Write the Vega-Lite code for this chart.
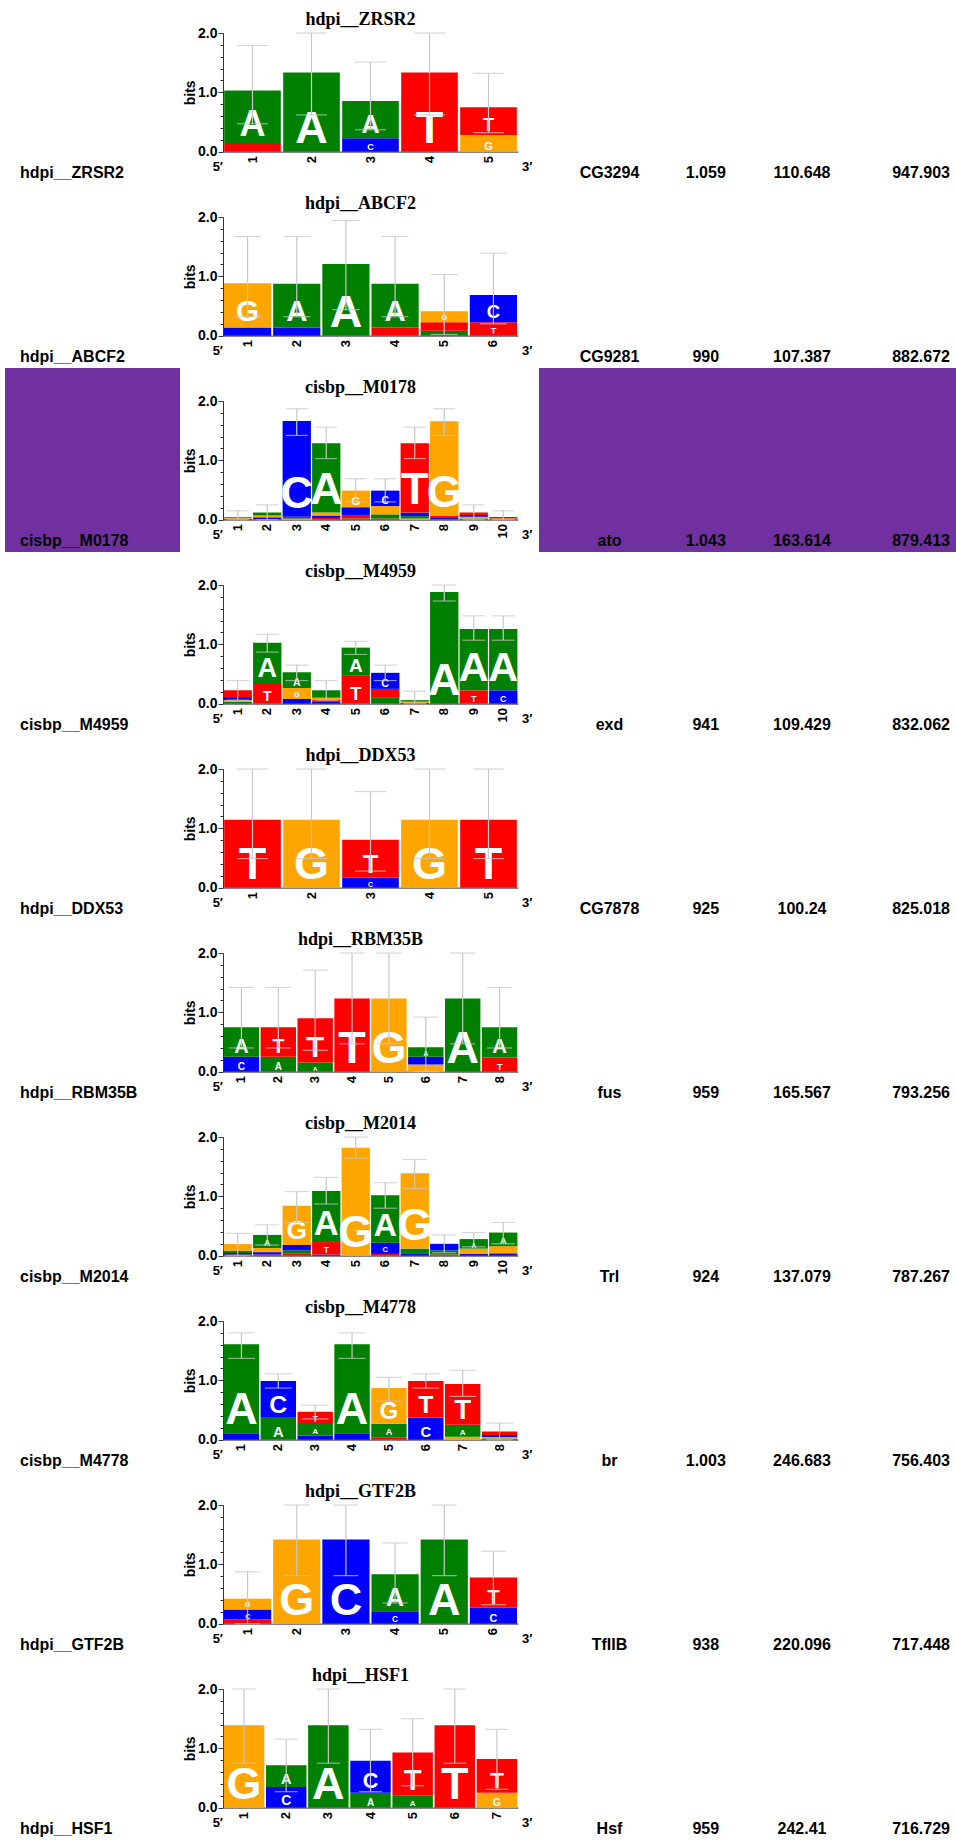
{
"$schema": "https://vega.github.io/schema/vega-lite/v6.json",
"background": "white",
"padding": {"left": 5, "top": 0, "right": 0, "bottom": 0},
"autosize": {"type": "pad"},
"datasets": {
"letters": [
{"motif":"hdpi__ZRSR2","pos":1,"base":"T","bits":0.13},{"motif":"hdpi__ZRSR2","pos":1,"base":"A","bits":0.9},{"motif":"hdpi__ZRSR2","pos":2,"base":"A","bits":1.335},{"motif":"hdpi__ZRSR2","pos":3,"base":"C","bits":0.225},{"motif":"hdpi__ZRSR2","pos":3,"base":"A","bits":0.63},{"motif":"hdpi__ZRSR2","pos":4,"base":"T","bits":1.335},{"motif":"hdpi__ZRSR2","pos":5,"base":"G","bits":0.28},{"motif":"hdpi__ZRSR2","pos":5,"base":"T","bits":0.47},
{"motif":"hdpi__ABCF2","pos":1,"base":"C","bits":0.14},{"motif":"hdpi__ABCF2","pos":1,"base":"G","bits":0.745},{"motif":"hdpi__ABCF2","pos":2,"base":"C","bits":0.14},{"motif":"hdpi__ABCF2","pos":2,"base":"A","bits":0.735},{"motif":"hdpi__ABCF2","pos":3,"base":"A","bits":1.21},{"motif":"hdpi__ABCF2","pos":4,"base":"T","bits":0.14},{"motif":"hdpi__ABCF2","pos":4,"base":"A","bits":0.735},{"motif":"hdpi__ABCF2","pos":5,"base":"A","bits":0.085},{"motif":"hdpi__ABCF2","pos":5,"base":"T","bits":0.14},{"motif":"hdpi__ABCF2","pos":5,"base":"G","bits":0.185},{"motif":"hdpi__ABCF2","pos":6,"base":"T","bits":0.225},{"motif":"hdpi__ABCF2","pos":6,"base":"C","bits":0.46},
{"motif":"cisbp__M0178","pos":1,"base":"A","bits":0.015},{"motif":"cisbp__M0178","pos":1,"base":"C","bits":0.01},{"motif":"cisbp__M0178","pos":1,"base":"G","bits":0.011},{"motif":"cisbp__M0178","pos":1,"base":"T","bits":0.005},
{"motif":"cisbp__M0178","pos":2,"base":"T","bits":0.01},{"motif":"cisbp__M0178","pos":2,"base":"C","bits":0.03},{"motif":"cisbp__M0178","pos":2,"base":"G","bits":0.031},{"motif":"cisbp__M0178","pos":2,"base":"A","bits":0.05},
{"motif":"cisbp__M0178","pos":3,"base":"G","bits":0.01},{"motif":"cisbp__M0178","pos":3,"base":"T","bits":0.011},{"motif":"cisbp__M0178","pos":3,"base":"A","bits":0.03},{"motif":"cisbp__M0178","pos":3,"base":"C","bits":1.61},
{"motif":"cisbp__M0178","pos":4,"base":"T","bits":0.03},{"motif":"cisbp__M0178","pos":4,"base":"C","bits":0.04},{"motif":"cisbp__M0178","pos":4,"base":"G","bits":0.05},{"motif":"cisbp__M0178","pos":4,"base":"A","bits":1.17},
{"motif":"cisbp__M0178","pos":5,"base":"A","bits":0.02},{"motif":"cisbp__M0178","pos":5,"base":"T","bits":0.06},{"motif":"cisbp__M0178","pos":5,"base":"C","bits":0.13},{"motif":"cisbp__M0178","pos":5,"base":"G","bits":0.28},
{"motif":"cisbp__M0178","pos":6,"base":"T","bits":0.02},{"motif":"cisbp__M0178","pos":6,"base":"A","bits":0.07},{"motif":"cisbp__M0178","pos":6,"base":"G","bits":0.14},{"motif":"cisbp__M0178","pos":6,"base":"C","bits":0.26},
{"motif":"cisbp__M0178","pos":7,"base":"G","bits":0.02},{"motif":"cisbp__M0178","pos":7,"base":"A","bits":0.04},{"motif":"cisbp__M0178","pos":7,"base":"C","bits":0.06},{"motif":"cisbp__M0178","pos":7,"base":"T","bits":1.17},
{"motif":"cisbp__M0178","pos":8,"base":"A","bits":0.01},{"motif":"cisbp__M0178","pos":8,"base":"C","bits":0.02},{"motif":"cisbp__M0178","pos":8,"base":"T","bits":0.04},{"motif":"cisbp__M0178","pos":8,"base":"G","bits":1.59},
{"motif":"cisbp__M0178","pos":9,"base":"A","bits":0.02},{"motif":"cisbp__M0178","pos":9,"base":"G","bits":0.03},{"motif":"cisbp__M0178","pos":9,"base":"C","bits":0.031},{"motif":"cisbp__M0178","pos":9,"base":"T","bits":0.04},
{"motif":"cisbp__M0178","pos":10,"base":"A","bits":0.01},{"motif":"cisbp__M0178","pos":10,"base":"G","bits":0.011},{"motif":"cisbp__M0178","pos":10,"base":"T","bits":0.012},{"motif":"cisbp__M0178","pos":10,"base":"C","bits":0.013},
{"motif":"cisbp__M4959","pos":1,"base":"A","bits":0.03},{"motif":"cisbp__M4959","pos":1,"base":"G","bits":0.031},{"motif":"cisbp__M4959","pos":1,"base":"C","bits":0.05},{"motif":"cisbp__M4959","pos":1,"base":"T","bits":0.115},
{"motif":"cisbp__M4959","pos":2,"base":"T","bits":0.35},{"motif":"cisbp__M4959","pos":2,"base":"A","bits":0.675},
{"motif":"cisbp__M4959","pos":3,"base":"C","bits":0.08},{"motif":"cisbp__M4959","pos":3,"base":"G","bits":0.185},{"motif":"cisbp__M4959","pos":3,"base":"A","bits":0.265},
{"motif":"cisbp__M4959","pos":4,"base":"C","bits":0.03},{"motif":"cisbp__M4959","pos":4,"base":"T","bits":0.031},{"motif":"cisbp__M4959","pos":4,"base":"G","bits":0.04},{"motif":"cisbp__M4959","pos":4,"base":"A","bits":0.125},
{"motif":"cisbp__M4959","pos":5,"base":"T","bits":0.47},{"motif":"cisbp__M4959","pos":5,"base":"A","bits":0.475},
{"motif":"cisbp__M4959","pos":6,"base":"A","bits":0.11},{"motif":"cisbp__M4959","pos":6,"base":"T","bits":0.14},{"motif":"cisbp__M4959","pos":6,"base":"C","bits":0.27},
{"motif":"cisbp__M4959","pos":7,"base":"C","bits":0.015},{"motif":"cisbp__M4959","pos":7,"base":"G","bits":0.02},{"motif":"cisbp__M4959","pos":7,"base":"A","bits":0.025},
{"motif":"cisbp__M4959","pos":8,"base":"A","bits":1.88},
{"motif":"cisbp__M4959","pos":9,"base":"T","bits":0.225},{"motif":"cisbp__M4959","pos":9,"base":"A","bits":1.035},
{"motif":"cisbp__M4959","pos":10,"base":"C","bits":0.225},{"motif":"cisbp__M4959","pos":10,"base":"A","bits":1.035},
{"motif":"hdpi__DDX53","pos":1,"base":"T","bits":1.145},{"motif":"hdpi__DDX53","pos":2,"base":"G","bits":1.145},{"motif":"hdpi__DDX53","pos":3,"base":"C","bits":0.17},{"motif":"hdpi__DDX53","pos":3,"base":"T","bits":0.64},{"motif":"hdpi__DDX53","pos":4,"base":"G","bits":1.145},{"motif":"hdpi__DDX53","pos":5,"base":"T","bits":1.145},
{"motif":"hdpi__RBM35B","pos":1,"base":"C","bits":0.25},{"motif":"hdpi__RBM35B","pos":1,"base":"A","bits":0.5},{"motif":"hdpi__RBM35B","pos":2,"base":"A","bits":0.25},{"motif":"hdpi__RBM35B","pos":2,"base":"T","bits":0.5},{"motif":"hdpi__RBM35B","pos":3,"base":"A","bits":0.155},{"motif":"hdpi__RBM35B","pos":3,"base":"T","bits":0.745},{"motif":"hdpi__RBM35B","pos":4,"base":"T","bits":1.235},{"motif":"hdpi__RBM35B","pos":5,"base":"G","bits":1.235},{"motif":"hdpi__RBM35B","pos":6,"base":"G","bits":0.12},{"motif":"hdpi__RBM35B","pos":6,"base":"C","bits":0.13},{"motif":"hdpi__RBM35B","pos":6,"base":"A","bits":0.16},{"motif":"hdpi__RBM35B","pos":7,"base":"A","bits":1.235},{"motif":"hdpi__RBM35B","pos":8,"base":"T","bits":0.24},{"motif":"hdpi__RBM35B","pos":8,"base":"A","bits":0.51},
{"motif":"cisbp__M2014","pos":1,"base":"T","bits":0.02},{"motif":"cisbp__M2014","pos":1,"base":"C","bits":0.025},{"motif":"cisbp__M2014","pos":1,"base":"A","bits":0.04},{"motif":"cisbp__M2014","pos":1,"base":"G","bits":0.11},
{"motif":"cisbp__M2014","pos":2,"base":"T","bits":0.02},{"motif":"cisbp__M2014","pos":2,"base":"C","bits":0.04},{"motif":"cisbp__M2014","pos":2,"base":"G","bits":0.07},{"motif":"cisbp__M2014","pos":2,"base":"A","bits":0.22},
{"motif":"cisbp__M2014","pos":3,"base":"T","bits":0.04},{"motif":"cisbp__M2014","pos":3,"base":"A","bits":0.05},{"motif":"cisbp__M2014","pos":3,"base":"C","bits":0.09},{"motif":"cisbp__M2014","pos":3,"base":"G","bits":0.66},
{"motif":"cisbp__M2014","pos":4,"base":"C","bits":0.02},{"motif":"cisbp__M2014","pos":4,"base":"T","bits":0.21},{"motif":"cisbp__M2014","pos":4,"base":"A","bits":0.86},
{"motif":"cisbp__M2014","pos":5,"base":"G","bits":1.82},
{"motif":"cisbp__M2014","pos":6,"base":"T","bits":0.03},{"motif":"cisbp__M2014","pos":6,"base":"C","bits":0.19},{"motif":"cisbp__M2014","pos":6,"base":"A","bits":0.8},
{"motif":"cisbp__M2014","pos":7,"base":"C","bits":0.03},{"motif":"cisbp__M2014","pos":7,"base":"A","bits":0.09},{"motif":"cisbp__M2014","pos":7,"base":"G","bits":1.27},
{"motif":"cisbp__M2014","pos":8,"base":"T","bits":0.02},{"motif":"cisbp__M2014","pos":8,"base":"A","bits":0.07},{"motif":"cisbp__M2014","pos":8,"base":"C","bits":0.11},
{"motif":"cisbp__M2014","pos":9,"base":"C","bits":0.03},{"motif":"cisbp__M2014","pos":9,"base":"G","bits":0.09},{"motif":"cisbp__M2014","pos":9,"base":"A","bits":0.16},
{"motif":"cisbp__M2014","pos":10,"base":"C","bits":0.04},{"motif":"cisbp__M2014","pos":10,"base":"G","bits":0.12},{"motif":"cisbp__M2014","pos":10,"base":"A","bits":0.23},
{"motif":"cisbp__M4778","pos":1,"base":"C","bits":0.11},{"motif":"cisbp__M4778","pos":1,"base":"A","bits":1.5},
{"motif":"cisbp__M4778","pos":2,"base":"A","bits":0.37},{"motif":"cisbp__M4778","pos":2,"base":"C","bits":0.62},
{"motif":"cisbp__M4778","pos":3,"base":"C","bits":0.07},{"motif":"cisbp__M4778","pos":3,"base":"A","bits":0.195},{"motif":"cisbp__M4778","pos":3,"base":"T","bits":0.205},
{"motif":"cisbp__M4778","pos":4,"base":"C","bits":0.11},{"motif":"cisbp__M4778","pos":4,"base":"A","bits":1.5},
{"motif":"cisbp__M4778","pos":5,"base":"T","bits":0.04},{"motif":"cisbp__M4778","pos":5,"base":"A","bits":0.23},{"motif":"cisbp__M4778","pos":5,"base":"G","bits":0.6},
{"motif":"cisbp__M4778","pos":6,"base":"C","bits":0.37},{"motif":"cisbp__M4778","pos":6,"base":"T","bits":0.62},
{"motif":"cisbp__M4778","pos":7,"base":"G","bits":0.05},{"motif":"cisbp__M4778","pos":7,"base":"A","bits":0.2},{"motif":"cisbp__M4778","pos":7,"base":"T","bits":0.69},
{"motif":"cisbp__M4778","pos":8,"base":"A","bits":0.02},{"motif":"cisbp__M4778","pos":8,"base":"G","bits":0.025},{"motif":"cisbp__M4778","pos":8,"base":"C","bits":0.035},{"motif":"cisbp__M4778","pos":8,"base":"T","bits":0.06},
{"motif":"hdpi__GTF2B","pos":1,"base":"T","bits":0.07},{"motif":"hdpi__GTF2B","pos":1,"base":"C","bits":0.17},{"motif":"hdpi__GTF2B","pos":1,"base":"G","bits":0.18},{"motif":"hdpi__GTF2B","pos":2,"base":"G","bits":1.42},{"motif":"hdpi__GTF2B","pos":3,"base":"C","bits":1.42},{"motif":"hdpi__GTF2B","pos":4,"base":"C","bits":0.21},{"motif":"hdpi__GTF2B","pos":4,"base":"A","bits":0.625},{"motif":"hdpi__GTF2B","pos":5,"base":"A","bits":1.42},{"motif":"hdpi__GTF2B","pos":6,"base":"C","bits":0.27},{"motif":"hdpi__GTF2B","pos":6,"base":"T","bits":0.51},
{"motif":"hdpi__HSF1","pos":1,"base":"G","bits":1.39},{"motif":"hdpi__HSF1","pos":2,"base":"C","bits":0.35},{"motif":"hdpi__HSF1","pos":2,"base":"A","bits":0.365},{"motif":"hdpi__HSF1","pos":3,"base":"A","bits":1.39},{"motif":"hdpi__HSF1","pos":4,"base":"A","bits":0.25},{"motif":"hdpi__HSF1","pos":4,"base":"C","bits":0.54},{"motif":"hdpi__HSF1","pos":5,"base":"A","bits":0.2},{"motif":"hdpi__HSF1","pos":5,"base":"T","bits":0.73},{"motif":"hdpi__HSF1","pos":6,"base":"T","bits":1.39},{"motif":"hdpi__HSF1","pos":7,"base":"G","bits":0.25},{"motif":"hdpi__HSF1","pos":7,"base":"T","bits":0.57}
],
"errs": [
{"motif":"hdpi__ZRSR2","pos":1,"lo":0.47,"hi":1.79},{"motif":"hdpi__ZRSR2","pos":2,"lo":0.62,"hi":2.0},{"motif":"hdpi__ZRSR2","pos":3,"lo":0.37,"hi":1.51},{"motif":"hdpi__ZRSR2","pos":4,"lo":0.62,"hi":2.0},{"motif":"hdpi__ZRSR2","pos":5,"lo":0.32,"hi":1.32},
{"motif":"hdpi__ABCF2","pos":1,"lo":0.32,"hi":1.67},{"motif":"hdpi__ABCF2","pos":2,"lo":0.32,"hi":1.67},{"motif":"hdpi__ABCF2","pos":3,"lo":0.44,"hi":1.94},{"motif":"hdpi__ABCF2","pos":4,"lo":0.32,"hi":1.67},{"motif":"hdpi__ABCF2","pos":5,"lo":0.02,"hi":1.03},{"motif":"hdpi__ABCF2","pos":6,"lo":0.2,"hi":1.39},
{"motif":"cisbp__M0178","pos":1,"lo":0,"hi":0.15},{"motif":"cisbp__M0178","pos":2,"lo":0,"hi":0.25},{"motif":"cisbp__M0178","pos":3,"lo":1.42,"hi":1.87},{"motif":"cisbp__M0178","pos":4,"lo":1.03,"hi":1.56},{"motif":"cisbp__M0178","pos":5,"lo":0.3,"hi":0.69},{"motif":"cisbp__M0178","pos":6,"lo":0.3,"hi":0.69},{"motif":"cisbp__M0178","pos":7,"lo":1.03,"hi":1.56},{"motif":"cisbp__M0178","pos":8,"lo":1.42,"hi":1.87},{"motif":"cisbp__M0178","pos":9,"lo":0,"hi":0.25},{"motif":"cisbp__M0178","pos":10,"lo":0,"hi":0.15},
{"motif":"cisbp__M4959","pos":1,"lo":0.06,"hi":0.39},{"motif":"cisbp__M4959","pos":2,"lo":0.87,"hi":1.17},{"motif":"cisbp__M4959","pos":3,"lo":0.39,"hi":0.65},{"motif":"cisbp__M4959","pos":4,"lo":0.06,"hi":0.39},{"motif":"cisbp__M4959","pos":5,"lo":0.83,"hi":1.05},{"motif":"cisbp__M4959","pos":6,"lo":0.39,"hi":0.65},{"motif":"cisbp__M4959","pos":7,"lo":0,"hi":0.21},{"motif":"cisbp__M4959","pos":8,"lo":1.73,"hi":2.0},{"motif":"cisbp__M4959","pos":9,"lo":1.07,"hi":1.48},{"motif":"cisbp__M4959","pos":10,"lo":1.07,"hi":1.48},
{"motif":"hdpi__DDX53","pos":1,"lo":0.49,"hi":2.0},{"motif":"hdpi__DDX53","pos":2,"lo":0.49,"hi":2.0},{"motif":"hdpi__DDX53","pos":3,"lo":0.28,"hi":1.62},{"motif":"hdpi__DDX53","pos":4,"lo":0.49,"hi":2.0},{"motif":"hdpi__DDX53","pos":5,"lo":0.49,"hi":2.0},
{"motif":"hdpi__RBM35B","pos":1,"lo":0.4,"hi":1.42},{"motif":"hdpi__RBM35B","pos":2,"lo":0.4,"hi":1.42},{"motif":"hdpi__RBM35B","pos":3,"lo":0.36,"hi":1.71},{"motif":"hdpi__RBM35B","pos":4,"lo":0.47,"hi":2.0},{"motif":"hdpi__RBM35B","pos":5,"lo":0.47,"hi":2.0},{"motif":"hdpi__RBM35B","pos":6,"lo":0,"hi":0.92},{"motif":"hdpi__RBM35B","pos":7,"lo":0.47,"hi":2.0},{"motif":"hdpi__RBM35B","pos":8,"lo":0.4,"hi":1.42},
{"motif":"cisbp__M2014","pos":1,"lo":0,"hi":0.375},{"motif":"cisbp__M2014","pos":2,"lo":0.18,"hi":0.52},{"motif":"cisbp__M2014","pos":3,"lo":0.56,"hi":1.08},{"motif":"cisbp__M2014","pos":4,"lo":0.87,"hi":1.32},{"motif":"cisbp__M2014","pos":5,"lo":1.64,"hi":2.0},{"motif":"cisbp__M2014","pos":6,"lo":0.8,"hi":1.23},{"motif":"cisbp__M2014","pos":7,"lo":1.13,"hi":1.62},{"motif":"cisbp__M2014","pos":8,"lo":0.05,"hi":0.35},{"motif":"cisbp__M2014","pos":9,"lo":0.15,"hi":0.39},{"motif":"cisbp__M2014","pos":10,"lo":0.2,"hi":0.56},
{"motif":"cisbp__M4778","pos":1,"lo":1.37,"hi":1.8},{"motif":"cisbp__M4778","pos":2,"lo":0.87,"hi":1.11},{"motif":"cisbp__M4778","pos":3,"lo":0.35,"hi":0.58},{"motif":"cisbp__M4778","pos":4,"lo":1.37,"hi":1.8},{"motif":"cisbp__M4778","pos":5,"lo":0.65,"hi":1.05},{"motif":"cisbp__M4778","pos":6,"lo":0.87,"hi":1.11},{"motif":"cisbp__M4778","pos":7,"lo":0.73,"hi":1.17},{"motif":"cisbp__M4778","pos":8,"lo":0,"hi":0.28},
{"motif":"hdpi__GTF2B","pos":1,"lo":0,"hi":0.875},{"motif":"hdpi__GTF2B","pos":2,"lo":0.81,"hi":2.0},{"motif":"hdpi__GTF2B","pos":3,"lo":0.81,"hi":2.0},{"motif":"hdpi__GTF2B","pos":4,"lo":0.35,"hi":1.36},{"motif":"hdpi__GTF2B","pos":5,"lo":0.81,"hi":2.0},{"motif":"hdpi__GTF2B","pos":6,"lo":0.32,"hi":1.22},
{"motif":"hdpi__HSF1","pos":1,"lo":0.75,"hi":2.0},{"motif":"hdpi__HSF1","pos":2,"lo":0.27,"hi":1.155},{"motif":"hdpi__HSF1","pos":3,"lo":0.75,"hi":2.0},{"motif":"hdpi__HSF1","pos":4,"lo":0.27,"hi":1.32},{"motif":"hdpi__HSF1","pos":5,"lo":0.37,"hi":1.5},{"motif":"hdpi__HSF1","pos":6,"lo":0.75,"hi":2.0},{"motif":"hdpi__HSF1","pos":7,"lo":0.31,"hi":1.32}
],
"cells": [
{"motif":"hdpi__ZRSR2","col":"name","text":"hdpi__ZRSR2"},{"motif":"hdpi__ZRSR2","col":"gene","text":"CG3294"},{"motif":"hdpi__ZRSR2","col":"n1","text":"1.059"},{"motif":"hdpi__ZRSR2","col":"n2","text":"110.648"},{"motif":"hdpi__ZRSR2","col":"n3","text":"947.903"},
{"motif":"hdpi__ABCF2","col":"name","text":"hdpi__ABCF2"},{"motif":"hdpi__ABCF2","col":"gene","text":"CG9281"},{"motif":"hdpi__ABCF2","col":"n1","text":"990"},{"motif":"hdpi__ABCF2","col":"n2","text":"107.387"},{"motif":"hdpi__ABCF2","col":"n3","text":"882.672"},
{"motif":"cisbp__M0178","col":"name","text":"cisbp__M0178"},{"motif":"cisbp__M0178","col":"gene","text":"ato"},{"motif":"cisbp__M0178","col":"n1","text":"1.043"},{"motif":"cisbp__M0178","col":"n2","text":"163.614"},{"motif":"cisbp__M0178","col":"n3","text":"879.413"},
{"motif":"cisbp__M4959","col":"name","text":"cisbp__M4959"},{"motif":"cisbp__M4959","col":"gene","text":"exd"},{"motif":"cisbp__M4959","col":"n1","text":"941"},{"motif":"cisbp__M4959","col":"n2","text":"109.429"},{"motif":"cisbp__M4959","col":"n3","text":"832.062"},
{"motif":"hdpi__DDX53","col":"name","text":"hdpi__DDX53"},{"motif":"hdpi__DDX53","col":"gene","text":"CG7878"},{"motif":"hdpi__DDX53","col":"n1","text":"925"},{"motif":"hdpi__DDX53","col":"n2","text":"100.24"},{"motif":"hdpi__DDX53","col":"n3","text":"825.018"},
{"motif":"hdpi__RBM35B","col":"name","text":"hdpi__RBM35B"},{"motif":"hdpi__RBM35B","col":"gene","text":"fus"},{"motif":"hdpi__RBM35B","col":"n1","text":"959"},{"motif":"hdpi__RBM35B","col":"n2","text":"165.567"},{"motif":"hdpi__RBM35B","col":"n3","text":"793.256"},
{"motif":"cisbp__M2014","col":"name","text":"cisbp__M2014"},{"motif":"cisbp__M2014","col":"gene","text":"Trl"},{"motif":"cisbp__M2014","col":"n1","text":"924"},{"motif":"cisbp__M2014","col":"n2","text":"137.079"},{"motif":"cisbp__M2014","col":"n3","text":"787.267"},
{"motif":"cisbp__M4778","col":"name","text":"cisbp__M4778"},{"motif":"cisbp__M4778","col":"gene","text":"br"},{"motif":"cisbp__M4778","col":"n1","text":"1.003"},{"motif":"cisbp__M4778","col":"n2","text":"246.683"},{"motif":"cisbp__M4778","col":"n3","text":"756.403"},
{"motif":"hdpi__GTF2B","col":"name","text":"hdpi__GTF2B"},{"motif":"hdpi__GTF2B","col":"gene","text":"TfIIB"},{"motif":"hdpi__GTF2B","col":"n1","text":"938"},{"motif":"hdpi__GTF2B","col":"n2","text":"220.096"},{"motif":"hdpi__GTF2B","col":"n3","text":"717.448"},
{"motif":"hdpi__HSF1","col":"name","text":"hdpi__HSF1"},{"motif":"hdpi__HSF1","col":"gene","text":"Hsf"},{"motif":"hdpi__HSF1","col":"n1","text":"959"},{"motif":"hdpi__HSF1","col":"n2","text":"242.41"},{"motif":"hdpi__HSF1","col":"n3","text":"716.729"}
],
"ends": [{"end": "5′"}, {"end": "3′"}]
},
"vconcat": [
{"hconcat": [
 {"width": 175, "height": 184, "data": {"name": "cells"}, "transform": [{"filter": "datum.motif === 'hdpi__ZRSR2' && datum.col === 'name'"}], "mark": {"type": "text", "align": "left", "baseline": "middle"}, "encoding": {"x": {"field": "col", "type": "nominal", "scale": {"range": [15, 15]}, "axis": null}, "y": {"field": "col", "type": "nominal", "scale": {"range": [173, 173]}, "axis": null}, "text": {"field": "text"}}},
 {"width": 359, "height": 184, "title": {"text": "hdpi__ZRSR2", "offset": -28.5, "dx": 1},
  "layer": [
   {"layer": [
     {"data": {"name": "letters"}, "transform": [{"filter": "datum.motif === 'hdpi__ZRSR2'"}], "mark": {"type": "bar", "width": {"band": 0.96}},
      "encoding": {"x": {"field": "pos", "type": "ordinal", "scale": {"domain": [1,2,3,4,5], "range": [43, 338], "paddingInner": 0, "paddingOuter": 0}, "axis": {"title": null}},
       "y": {"field": "bits", "type": "quantitative", "stack": "zero", "scale": {"domain": [0, 2], "range": [151.7, 33]}, "axis": {"orient": "left", "title": "bits", "offset": -43, "labelOverlap": false, "values": [0, 1, 2], "format": ".1f", "tickSize": 5}},
       "order": {"field": "bits", "type": "quantitative", "sort": "ascending"},
       "color": {"field": "base", "type": "nominal", "scale": {"domain": ["A","C","G","T"], "range": ["#008000","#0000ff","#ffa500","#ff0000"]}, "legend": null}}},
     {"data": {"name": "letters"}, "transform": [{"filter": "datum.motif === 'hdpi__ZRSR2'"}, {"stack": "bits", "groupby": ["pos"], "sort": [{"field": "bits", "order": "ascending"}], "as": ["y0", "y1"]}, {"filter": "datum.bits >= 0.15"}],
      "mark": {"type": "text", "color": "white", "align": "center", "baseline": "bottom"},
      "encoding": {"x": {"field": "pos", "type": "ordinal"}, "y": {"field": "y0", "type": "quantitative", "stack": null, "axis": null}, "text": {"field": "base"}, "size": {"field": "bits", "type": "quantitative", "scale": {"domain": [0, 1.125], "range": [0, 45], "clamp": true}, "legend": null}}},
     {"data": {"name": "errs"}, "transform": [{"filter": "datum.motif === 'hdpi__ZRSR2'"}], "mark": {"type": "errorbar", "ticks": true, "size": 31, "color": "#c8c8c8", "thickness": 1.2},
      "encoding": {"x": {"field": "pos", "type": "ordinal"}, "y": {"field": "lo", "type": "quantitative", "axis": {"orient": "left", "title": null, "offset": -43, "values": [0.2,0.4,0.6,0.8,1.2,1.4,1.6,1.8], "labels": false, "domain": false, "tickSize": 3}}, "y2": {"field": "hi"}}}
   ], "resolve": {"axis": {"y": "independent"}}},
   {"data": {"name": "ends"}, "transform": [{"filter": "datum.end === '5′'"}], "mark": {"type": "text", "align": "right", "baseline": "middle", "fontSize": 13},
    "encoding": {"x": {"field": "end", "type": "nominal", "scale": {"type": "point", "domain": ["5′","3′"], "range": [43, 338], "padding": 0}, "axis": null}, "y": {"datum": -0.25, "type": "quantitative", "scale": {"domain": [0, 2], "range": [151.7, 33]}, "axis": null}, "text": {"field": "end"}}},
   {"data": {"name": "ends"}, "transform": [{"filter": "datum.end === '3′'"}], "mark": {"type": "text", "align": "left", "baseline": "middle", "fontSize": 13, "dx": 4},
    "encoding": {"x": {"field": "end", "type": "nominal", "scale": {"type": "point", "domain": ["5′","3′"], "range": [43, 338], "padding": 0}, "axis": null}, "y": {"datum": -0.25, "type": "quantitative", "scale": {"domain": [0, 2], "range": [151.7, 33]}, "axis": null}, "text": {"field": "end"}}}
  ],
  "resolve": {"scale": {"x": "independent"}, "axis": {"y": "independent"}}},
 {"width": 417, "height": 184, "data": {"name": "cells"}, "transform": [{"filter": "datum.motif === 'hdpi__ZRSR2'"}],
  "layer": [
   {"transform": [{"filter": "datum.col === 'gene' || datum.col === 'n1' || datum.col === 'n2'"}], "mark": {"type": "text", "align": "center", "baseline": "middle"},
    "encoding": {"x": {"field": "col", "type": "nominal", "scale": {"type": "point", "domain": ["gene","n1","n2"], "range": [70.5, 263], "padding": 0}, "axis": null}, "y": {"field": "motif", "type": "nominal", "scale": {"range": [173, 173]}, "axis": null}, "text": {"field": "text"}}},
   {"transform": [{"filter": "datum.col === 'n3'"}], "mark": {"type": "text", "align": "right", "baseline": "middle"},
    "encoding": {"x": {"field": "col", "type": "nominal", "scale": {"range": [411, 411]}, "axis": null}, "y": {"field": "motif", "type": "nominal", "scale": {"range": [173, 173]}, "axis": null}, "text": {"field": "text"}}}
  ], "resolve": {"scale": {"x": "independent"}}}
], "spacing": 0, "bounds": "flush"},
{"hconcat": [
 {"width": 175, "height": 184, "data": {"name": "cells"}, "transform": [{"filter": "datum.motif === 'hdpi__ABCF2' && datum.col === 'name'"}], "mark": {"type": "text", "align": "left", "baseline": "middle"}, "encoding": {"x": {"field": "col", "type": "nominal", "scale": {"range": [15, 15]}, "axis": null}, "y": {"field": "col", "type": "nominal", "scale": {"range": [173, 173]}, "axis": null}, "text": {"field": "text"}}},
 {"width": 359, "height": 184, "title": {"text": "hdpi__ABCF2", "offset": -28.5, "dx": 1},
  "layer": [
   {"layer": [
     {"data": {"name": "letters"}, "transform": [{"filter": "datum.motif === 'hdpi__ABCF2'"}], "mark": {"type": "bar", "width": {"band": 0.96}},
      "encoding": {"x": {"field": "pos", "type": "ordinal", "scale": {"domain": [1,2,3,4,5,6], "range": [43, 338], "paddingInner": 0, "paddingOuter": 0}, "axis": {"title": null}},
       "y": {"field": "bits", "type": "quantitative", "stack": "zero", "scale": {"domain": [0, 2], "range": [151.7, 33]}, "axis": {"orient": "left", "title": "bits", "offset": -43, "labelOverlap": false, "values": [0, 1, 2], "format": ".1f", "tickSize": 5}},
       "order": {"field": "bits", "type": "quantitative", "sort": "ascending"},
       "color": {"field": "base", "type": "nominal", "scale": {"domain": ["A","C","G","T"], "range": ["#008000","#0000ff","#ffa500","#ff0000"]}, "legend": null}}},
     {"data": {"name": "letters"}, "transform": [{"filter": "datum.motif === 'hdpi__ABCF2'"}, {"stack": "bits", "groupby": ["pos"], "sort": [{"field": "bits", "order": "ascending"}], "as": ["y0", "y1"]}, {"filter": "datum.bits >= 0.15"}],
      "mark": {"type": "text", "color": "white", "align": "center", "baseline": "bottom"},
      "encoding": {"x": {"field": "pos", "type": "ordinal"}, "y": {"field": "y0", "type": "quantitative", "stack": null, "axis": null}, "text": {"field": "base"}, "size": {"field": "bits", "type": "quantitative", "scale": {"domain": [0, 0.95], "range": [0, 38], "clamp": true}, "legend": null}}},
     {"data": {"name": "errs"}, "transform": [{"filter": "datum.motif === 'hdpi__ABCF2'"}], "mark": {"type": "errorbar", "ticks": true, "size": 27, "color": "#c8c8c8", "thickness": 1.2},
      "encoding": {"x": {"field": "pos", "type": "ordinal"}, "y": {"field": "lo", "type": "quantitative", "axis": {"orient": "left", "title": null, "offset": -43, "values": [0.2,0.4,0.6,0.8,1.2,1.4,1.6,1.8], "labels": false, "domain": false, "tickSize": 3}}, "y2": {"field": "hi"}}}
   ], "resolve": {"axis": {"y": "independent"}}},
   {"data": {"name": "ends"}, "transform": [{"filter": "datum.end === '5′'"}], "mark": {"type": "text", "align": "right", "baseline": "middle", "fontSize": 13},
    "encoding": {"x": {"field": "end", "type": "nominal", "scale": {"type": "point", "domain": ["5′","3′"], "range": [43, 338], "padding": 0}, "axis": null}, "y": {"datum": -0.25, "type": "quantitative", "scale": {"domain": [0, 2], "range": [151.7, 33]}, "axis": null}, "text": {"field": "end"}}},
   {"data": {"name": "ends"}, "transform": [{"filter": "datum.end === '3′'"}], "mark": {"type": "text", "align": "left", "baseline": "middle", "fontSize": 13, "dx": 4},
    "encoding": {"x": {"field": "end", "type": "nominal", "scale": {"type": "point", "domain": ["5′","3′"], "range": [43, 338], "padding": 0}, "axis": null}, "y": {"datum": -0.25, "type": "quantitative", "scale": {"domain": [0, 2], "range": [151.7, 33]}, "axis": null}, "text": {"field": "end"}}}
  ],
  "resolve": {"scale": {"x": "independent"}, "axis": {"y": "independent"}}},
 {"width": 417, "height": 184, "data": {"name": "cells"}, "transform": [{"filter": "datum.motif === 'hdpi__ABCF2'"}],
  "layer": [
   {"transform": [{"filter": "datum.col === 'gene' || datum.col === 'n1' || datum.col === 'n2'"}], "mark": {"type": "text", "align": "center", "baseline": "middle"},
    "encoding": {"x": {"field": "col", "type": "nominal", "scale": {"type": "point", "domain": ["gene","n1","n2"], "range": [70.5, 263], "padding": 0}, "axis": null}, "y": {"field": "motif", "type": "nominal", "scale": {"range": [173, 173]}, "axis": null}, "text": {"field": "text"}}},
   {"transform": [{"filter": "datum.col === 'n3'"}], "mark": {"type": "text", "align": "right", "baseline": "middle"},
    "encoding": {"x": {"field": "col", "type": "nominal", "scale": {"range": [411, 411]}, "axis": null}, "y": {"field": "motif", "type": "nominal", "scale": {"range": [173, 173]}, "axis": null}, "text": {"field": "text"}}}
  ], "resolve": {"scale": {"x": "independent"}}}
], "spacing": 0, "bounds": "flush"},
{"hconcat": [
 {"width": 175, "height": 184, "view": {"fill": "#7030a0"}, "data": {"name": "cells"}, "transform": [{"filter": "datum.motif === 'cisbp__M0178' && datum.col === 'name'"}], "mark": {"type": "text", "align": "left", "baseline": "middle"}, "encoding": {"x": {"field": "col", "type": "nominal", "scale": {"range": [15, 15]}, "axis": null}, "y": {"field": "col", "type": "nominal", "scale": {"range": [173, 173]}, "axis": null}, "text": {"field": "text"}}},
 {"width": 359, "height": 184, "title": {"text": "cisbp__M0178", "offset": -28.5, "dx": 1},
  "layer": [
   {"layer": [
     {"data": {"name": "letters"}, "transform": [{"filter": "datum.motif === 'cisbp__M0178'"}], "mark": {"type": "bar", "width": {"band": 0.96}},
      "encoding": {"x": {"field": "pos", "type": "ordinal", "scale": {"domain": [1,2,3,4,5,6,7,8,9,10], "range": [43, 338], "paddingInner": 0, "paddingOuter": 0}, "axis": {"title": null}},
       "y": {"field": "bits", "type": "quantitative", "stack": "zero", "scale": {"domain": [0, 2], "range": [151.7, 33]}, "axis": {"orient": "left", "title": "bits", "offset": -43, "labelOverlap": false, "values": [0, 1, 2], "format": ".1f", "tickSize": 5}},
       "order": {"field": "bits", "type": "quantitative", "sort": "ascending"},
       "color": {"field": "base", "type": "nominal", "scale": {"domain": ["A","C","G","T"], "range": ["#008000","#0000ff","#ffa500","#ff0000"]}, "legend": null}}},
     {"data": {"name": "letters"}, "transform": [{"filter": "datum.motif === 'cisbp__M0178'"}, {"stack": "bits", "groupby": ["pos"], "sort": [{"field": "bits", "order": "ascending"}], "as": ["y0", "y1"]}, {"filter": "datum.bits >= 0.15"}],
      "mark": {"type": "text", "color": "white", "align": "center", "baseline": "bottom"},
      "encoding": {"x": {"field": "pos", "type": "ordinal"}, "y": {"field": "y0", "type": "quantitative", "stack": null, "axis": null}, "text": {"field": "base"}, "size": {"field": "bits", "type": "quantitative", "scale": {"domain": [0, 0.575], "range": [0, 23], "clamp": true}, "legend": null}}},
     {"data": {"name": "errs"}, "transform": [{"filter": "datum.motif === 'cisbp__M0178'"}], "mark": {"type": "errorbar", "ticks": true, "size": 22, "color": "#c8c8c8", "thickness": 1.2},
      "encoding": {"x": {"field": "pos", "type": "ordinal"}, "y": {"field": "lo", "type": "quantitative", "axis": {"orient": "left", "title": null, "offset": -43, "values": [0.2,0.4,0.6,0.8,1.2,1.4,1.6,1.8], "labels": false, "domain": false, "tickSize": 3}}, "y2": {"field": "hi"}}}
   ], "resolve": {"axis": {"y": "independent"}}},
   {"data": {"name": "ends"}, "transform": [{"filter": "datum.end === '5′'"}], "mark": {"type": "text", "align": "right", "baseline": "middle", "fontSize": 13},
    "encoding": {"x": {"field": "end", "type": "nominal", "scale": {"type": "point", "domain": ["5′","3′"], "range": [43, 338], "padding": 0}, "axis": null}, "y": {"datum": -0.25, "type": "quantitative", "scale": {"domain": [0, 2], "range": [151.7, 33]}, "axis": null}, "text": {"field": "end"}}},
   {"data": {"name": "ends"}, "transform": [{"filter": "datum.end === '3′'"}], "mark": {"type": "text", "align": "left", "baseline": "middle", "fontSize": 13, "dx": 4},
    "encoding": {"x": {"field": "end", "type": "nominal", "scale": {"type": "point", "domain": ["5′","3′"], "range": [43, 338], "padding": 0}, "axis": null}, "y": {"datum": -0.25, "type": "quantitative", "scale": {"domain": [0, 2], "range": [151.7, 33]}, "axis": null}, "text": {"field": "end"}}}
  ],
  "resolve": {"scale": {"x": "independent"}, "axis": {"y": "independent"}}},
 {"width": 417, "height": 184, "view": {"fill": "#7030a0"}, "data": {"name": "cells"}, "transform": [{"filter": "datum.motif === 'cisbp__M0178'"}],
  "layer": [
   {"transform": [{"filter": "datum.col === 'gene' || datum.col === 'n1' || datum.col === 'n2'"}], "mark": {"type": "text", "align": "center", "baseline": "middle"},
    "encoding": {"x": {"field": "col", "type": "nominal", "scale": {"type": "point", "domain": ["gene","n1","n2"], "range": [70.5, 263], "padding": 0}, "axis": null}, "y": {"field": "motif", "type": "nominal", "scale": {"range": [173, 173]}, "axis": null}, "text": {"field": "text"}}},
   {"transform": [{"filter": "datum.col === 'n3'"}], "mark": {"type": "text", "align": "right", "baseline": "middle"},
    "encoding": {"x": {"field": "col", "type": "nominal", "scale": {"range": [411, 411]}, "axis": null}, "y": {"field": "motif", "type": "nominal", "scale": {"range": [173, 173]}, "axis": null}, "text": {"field": "text"}}}
  ], "resolve": {"scale": {"x": "independent"}}}
], "spacing": 0, "bounds": "flush"},
{"hconcat": [
 {"width": 175, "height": 184, "data": {"name": "cells"}, "transform": [{"filter": "datum.motif === 'cisbp__M4959' && datum.col === 'name'"}], "mark": {"type": "text", "align": "left", "baseline": "middle"}, "encoding": {"x": {"field": "col", "type": "nominal", "scale": {"range": [15, 15]}, "axis": null}, "y": {"field": "col", "type": "nominal", "scale": {"range": [173, 173]}, "axis": null}, "text": {"field": "text"}}},
 {"width": 359, "height": 184, "title": {"text": "cisbp__M4959", "offset": -28.5, "dx": 1},
  "layer": [
   {"layer": [
     {"data": {"name": "letters"}, "transform": [{"filter": "datum.motif === 'cisbp__M4959'"}], "mark": {"type": "bar", "width": {"band": 0.96}},
      "encoding": {"x": {"field": "pos", "type": "ordinal", "scale": {"domain": [1,2,3,4,5,6,7,8,9,10], "range": [43, 338], "paddingInner": 0, "paddingOuter": 0}, "axis": {"title": null}},
       "y": {"field": "bits", "type": "quantitative", "stack": "zero", "scale": {"domain": [0, 2], "range": [151.7, 33]}, "axis": {"orient": "left", "title": "bits", "offset": -43, "labelOverlap": false, "values": [0, 1, 2], "format": ".1f", "tickSize": 5}},
       "order": {"field": "bits", "type": "quantitative", "sort": "ascending"},
       "color": {"field": "base", "type": "nominal", "scale": {"domain": ["A","C","G","T"], "range": ["#008000","#0000ff","#ffa500","#ff0000"]}, "legend": null}}},
     {"data": {"name": "letters"}, "transform": [{"filter": "datum.motif === 'cisbp__M4959'"}, {"stack": "bits", "groupby": ["pos"], "sort": [{"field": "bits", "order": "ascending"}], "as": ["y0", "y1"]}, {"filter": "datum.bits >= 0.15"}],
      "mark": {"type": "text", "color": "white", "align": "center", "baseline": "bottom"},
      "encoding": {"x": {"field": "pos", "type": "ordinal"}, "y": {"field": "y0", "type": "quantitative", "stack": null, "axis": null}, "text": {"field": "base"}, "size": {"field": "bits", "type": "quantitative", "scale": {"domain": [0, 0.575], "range": [0, 23], "clamp": true}, "legend": null}}},
     {"data": {"name": "errs"}, "transform": [{"filter": "datum.motif === 'cisbp__M4959'"}], "mark": {"type": "errorbar", "ticks": true, "size": 23, "color": "#c8c8c8", "thickness": 1.2},
      "encoding": {"x": {"field": "pos", "type": "ordinal"}, "y": {"field": "lo", "type": "quantitative", "axis": {"orient": "left", "title": null, "offset": -43, "values": [0.2,0.4,0.6,0.8,1.2,1.4,1.6,1.8], "labels": false, "domain": false, "tickSize": 3}}, "y2": {"field": "hi"}}}
   ], "resolve": {"axis": {"y": "independent"}}},
   {"data": {"name": "ends"}, "transform": [{"filter": "datum.end === '5′'"}], "mark": {"type": "text", "align": "right", "baseline": "middle", "fontSize": 13},
    "encoding": {"x": {"field": "end", "type": "nominal", "scale": {"type": "point", "domain": ["5′","3′"], "range": [43, 338], "padding": 0}, "axis": null}, "y": {"datum": -0.25, "type": "quantitative", "scale": {"domain": [0, 2], "range": [151.7, 33]}, "axis": null}, "text": {"field": "end"}}},
   {"data": {"name": "ends"}, "transform": [{"filter": "datum.end === '3′'"}], "mark": {"type": "text", "align": "left", "baseline": "middle", "fontSize": 13, "dx": 4},
    "encoding": {"x": {"field": "end", "type": "nominal", "scale": {"type": "point", "domain": ["5′","3′"], "range": [43, 338], "padding": 0}, "axis": null}, "y": {"datum": -0.25, "type": "quantitative", "scale": {"domain": [0, 2], "range": [151.7, 33]}, "axis": null}, "text": {"field": "end"}}}
  ],
  "resolve": {"scale": {"x": "independent"}, "axis": {"y": "independent"}}},
 {"width": 417, "height": 184, "data": {"name": "cells"}, "transform": [{"filter": "datum.motif === 'cisbp__M4959'"}],
  "layer": [
   {"transform": [{"filter": "datum.col === 'gene' || datum.col === 'n1' || datum.col === 'n2'"}], "mark": {"type": "text", "align": "center", "baseline": "middle"},
    "encoding": {"x": {"field": "col", "type": "nominal", "scale": {"type": "point", "domain": ["gene","n1","n2"], "range": [70.5, 263], "padding": 0}, "axis": null}, "y": {"field": "motif", "type": "nominal", "scale": {"range": [173, 173]}, "axis": null}, "text": {"field": "text"}}},
   {"transform": [{"filter": "datum.col === 'n3'"}], "mark": {"type": "text", "align": "right", "baseline": "middle"},
    "encoding": {"x": {"field": "col", "type": "nominal", "scale": {"range": [411, 411]}, "axis": null}, "y": {"field": "motif", "type": "nominal", "scale": {"range": [173, 173]}, "axis": null}, "text": {"field": "text"}}}
  ], "resolve": {"scale": {"x": "independent"}}}
], "spacing": 0, "bounds": "flush"},
{"hconcat": [
 {"width": 175, "height": 184, "data": {"name": "cells"}, "transform": [{"filter": "datum.motif === 'hdpi__DDX53' && datum.col === 'name'"}], "mark": {"type": "text", "align": "left", "baseline": "middle"}, "encoding": {"x": {"field": "col", "type": "nominal", "scale": {"range": [15, 15]}, "axis": null}, "y": {"field": "col", "type": "nominal", "scale": {"range": [173, 173]}, "axis": null}, "text": {"field": "text"}}},
 {"width": 359, "height": 184, "title": {"text": "hdpi__DDX53", "offset": -28.5, "dx": 1},
  "layer": [
   {"layer": [
     {"data": {"name": "letters"}, "transform": [{"filter": "datum.motif === 'hdpi__DDX53'"}], "mark": {"type": "bar", "width": {"band": 0.96}},
      "encoding": {"x": {"field": "pos", "type": "ordinal", "scale": {"domain": [1,2,3,4,5], "range": [43, 338], "paddingInner": 0, "paddingOuter": 0}, "axis": {"title": null}},
       "y": {"field": "bits", "type": "quantitative", "stack": "zero", "scale": {"domain": [0, 2], "range": [151.7, 33]}, "axis": {"orient": "left", "title": "bits", "offset": -43, "labelOverlap": false, "values": [0, 1, 2], "format": ".1f", "tickSize": 5}},
       "order": {"field": "bits", "type": "quantitative", "sort": "ascending"},
       "color": {"field": "base", "type": "nominal", "scale": {"domain": ["A","C","G","T"], "range": ["#008000","#0000ff","#ffa500","#ff0000"]}, "legend": null}}},
     {"data": {"name": "letters"}, "transform": [{"filter": "datum.motif === 'hdpi__DDX53'"}, {"stack": "bits", "groupby": ["pos"], "sort": [{"field": "bits", "order": "ascending"}], "as": ["y0", "y1"]}, {"filter": "datum.bits >= 0.15"}],
      "mark": {"type": "text", "color": "white", "align": "center", "baseline": "bottom"},
      "encoding": {"x": {"field": "pos", "type": "ordinal"}, "y": {"field": "y0", "type": "quantitative", "stack": null, "axis": null}, "text": {"field": "base"}, "size": {"field": "bits", "type": "quantitative", "scale": {"domain": [0, 1.125], "range": [0, 45], "clamp": true}, "legend": null}}},
     {"data": {"name": "errs"}, "transform": [{"filter": "datum.motif === 'hdpi__DDX53'"}], "mark": {"type": "errorbar", "ticks": true, "size": 31, "color": "#c8c8c8", "thickness": 1.2},
      "encoding": {"x": {"field": "pos", "type": "ordinal"}, "y": {"field": "lo", "type": "quantitative", "axis": {"orient": "left", "title": null, "offset": -43, "values": [0.2,0.4,0.6,0.8,1.2,1.4,1.6,1.8], "labels": false, "domain": false, "tickSize": 3}}, "y2": {"field": "hi"}}}
   ], "resolve": {"axis": {"y": "independent"}}},
   {"data": {"name": "ends"}, "transform": [{"filter": "datum.end === '5′'"}], "mark": {"type": "text", "align": "right", "baseline": "middle", "fontSize": 13},
    "encoding": {"x": {"field": "end", "type": "nominal", "scale": {"type": "point", "domain": ["5′","3′"], "range": [43, 338], "padding": 0}, "axis": null}, "y": {"datum": -0.25, "type": "quantitative", "scale": {"domain": [0, 2], "range": [151.7, 33]}, "axis": null}, "text": {"field": "end"}}},
   {"data": {"name": "ends"}, "transform": [{"filter": "datum.end === '3′'"}], "mark": {"type": "text", "align": "left", "baseline": "middle", "fontSize": 13, "dx": 4},
    "encoding": {"x": {"field": "end", "type": "nominal", "scale": {"type": "point", "domain": ["5′","3′"], "range": [43, 338], "padding": 0}, "axis": null}, "y": {"datum": -0.25, "type": "quantitative", "scale": {"domain": [0, 2], "range": [151.7, 33]}, "axis": null}, "text": {"field": "end"}}}
  ],
  "resolve": {"scale": {"x": "independent"}, "axis": {"y": "independent"}}},
 {"width": 417, "height": 184, "data": {"name": "cells"}, "transform": [{"filter": "datum.motif === 'hdpi__DDX53'"}],
  "layer": [
   {"transform": [{"filter": "datum.col === 'gene' || datum.col === 'n1' || datum.col === 'n2'"}], "mark": {"type": "text", "align": "center", "baseline": "middle"},
    "encoding": {"x": {"field": "col", "type": "nominal", "scale": {"type": "point", "domain": ["gene","n1","n2"], "range": [70.5, 263], "padding": 0}, "axis": null}, "y": {"field": "motif", "type": "nominal", "scale": {"range": [173, 173]}, "axis": null}, "text": {"field": "text"}}},
   {"transform": [{"filter": "datum.col === 'n3'"}], "mark": {"type": "text", "align": "right", "baseline": "middle"},
    "encoding": {"x": {"field": "col", "type": "nominal", "scale": {"range": [411, 411]}, "axis": null}, "y": {"field": "motif", "type": "nominal", "scale": {"range": [173, 173]}, "axis": null}, "text": {"field": "text"}}}
  ], "resolve": {"scale": {"x": "independent"}}}
], "spacing": 0, "bounds": "flush"},
{"hconcat": [
 {"width": 175, "height": 184, "data": {"name": "cells"}, "transform": [{"filter": "datum.motif === 'hdpi__RBM35B' && datum.col === 'name'"}], "mark": {"type": "text", "align": "left", "baseline": "middle"}, "encoding": {"x": {"field": "col", "type": "nominal", "scale": {"range": [15, 15]}, "axis": null}, "y": {"field": "col", "type": "nominal", "scale": {"range": [173, 173]}, "axis": null}, "text": {"field": "text"}}},
 {"width": 359, "height": 184, "title": {"text": "hdpi__RBM35B", "offset": -28.5, "dx": 1},
  "layer": [
   {"layer": [
     {"data": {"name": "letters"}, "transform": [{"filter": "datum.motif === 'hdpi__RBM35B'"}], "mark": {"type": "bar", "width": {"band": 0.96}},
      "encoding": {"x": {"field": "pos", "type": "ordinal", "scale": {"domain": [1,2,3,4,5,6,7,8], "range": [43, 338], "paddingInner": 0, "paddingOuter": 0}, "axis": {"title": null}},
       "y": {"field": "bits", "type": "quantitative", "stack": "zero", "scale": {"domain": [0, 2], "range": [151.7, 33]}, "axis": {"orient": "left", "title": "bits", "offset": -43, "labelOverlap": false, "values": [0, 1, 2], "format": ".1f", "tickSize": 5}},
       "order": {"field": "bits", "type": "quantitative", "sort": "ascending"},
       "color": {"field": "base", "type": "nominal", "scale": {"domain": ["A","C","G","T"], "range": ["#008000","#0000ff","#ffa500","#ff0000"]}, "legend": null}}},
     {"data": {"name": "letters"}, "transform": [{"filter": "datum.motif === 'hdpi__RBM35B'"}, {"stack": "bits", "groupby": ["pos"], "sort": [{"field": "bits", "order": "ascending"}], "as": ["y0", "y1"]}, {"filter": "datum.bits >= 0.15"}],
      "mark": {"type": "text", "color": "white", "align": "center", "baseline": "bottom"},
      "encoding": {"x": {"field": "pos", "type": "ordinal"}, "y": {"field": "y0", "type": "quantitative", "stack": null, "axis": null}, "text": {"field": "base"}, "size": {"field": "bits", "type": "quantitative", "scale": {"domain": [0, 0.725], "range": [0, 29], "clamp": true}, "legend": null}}},
     {"data": {"name": "errs"}, "transform": [{"filter": "datum.motif === 'hdpi__RBM35B'"}], "mark": {"type": "errorbar", "ticks": true, "size": 25, "color": "#c8c8c8", "thickness": 1.2},
      "encoding": {"x": {"field": "pos", "type": "ordinal"}, "y": {"field": "lo", "type": "quantitative", "axis": {"orient": "left", "title": null, "offset": -43, "values": [0.2,0.4,0.6,0.8,1.2,1.4,1.6,1.8], "labels": false, "domain": false, "tickSize": 3}}, "y2": {"field": "hi"}}}
   ], "resolve": {"axis": {"y": "independent"}}},
   {"data": {"name": "ends"}, "transform": [{"filter": "datum.end === '5′'"}], "mark": {"type": "text", "align": "right", "baseline": "middle", "fontSize": 13},
    "encoding": {"x": {"field": "end", "type": "nominal", "scale": {"type": "point", "domain": ["5′","3′"], "range": [43, 338], "padding": 0}, "axis": null}, "y": {"datum": -0.25, "type": "quantitative", "scale": {"domain": [0, 2], "range": [151.7, 33]}, "axis": null}, "text": {"field": "end"}}},
   {"data": {"name": "ends"}, "transform": [{"filter": "datum.end === '3′'"}], "mark": {"type": "text", "align": "left", "baseline": "middle", "fontSize": 13, "dx": 4},
    "encoding": {"x": {"field": "end", "type": "nominal", "scale": {"type": "point", "domain": ["5′","3′"], "range": [43, 338], "padding": 0}, "axis": null}, "y": {"datum": -0.25, "type": "quantitative", "scale": {"domain": [0, 2], "range": [151.7, 33]}, "axis": null}, "text": {"field": "end"}}}
  ],
  "resolve": {"scale": {"x": "independent"}, "axis": {"y": "independent"}}},
 {"width": 417, "height": 184, "data": {"name": "cells"}, "transform": [{"filter": "datum.motif === 'hdpi__RBM35B'"}],
  "layer": [
   {"transform": [{"filter": "datum.col === 'gene' || datum.col === 'n1' || datum.col === 'n2'"}], "mark": {"type": "text", "align": "center", "baseline": "middle"},
    "encoding": {"x": {"field": "col", "type": "nominal", "scale": {"type": "point", "domain": ["gene","n1","n2"], "range": [70.5, 263], "padding": 0}, "axis": null}, "y": {"field": "motif", "type": "nominal", "scale": {"range": [173, 173]}, "axis": null}, "text": {"field": "text"}}},
   {"transform": [{"filter": "datum.col === 'n3'"}], "mark": {"type": "text", "align": "right", "baseline": "middle"},
    "encoding": {"x": {"field": "col", "type": "nominal", "scale": {"range": [411, 411]}, "axis": null}, "y": {"field": "motif", "type": "nominal", "scale": {"range": [173, 173]}, "axis": null}, "text": {"field": "text"}}}
  ], "resolve": {"scale": {"x": "independent"}}}
], "spacing": 0, "bounds": "flush"},
{"hconcat": [
 {"width": 175, "height": 184, "data": {"name": "cells"}, "transform": [{"filter": "datum.motif === 'cisbp__M2014' && datum.col === 'name'"}], "mark": {"type": "text", "align": "left", "baseline": "middle"}, "encoding": {"x": {"field": "col", "type": "nominal", "scale": {"range": [15, 15]}, "axis": null}, "y": {"field": "col", "type": "nominal", "scale": {"range": [173, 173]}, "axis": null}, "text": {"field": "text"}}},
 {"width": 359, "height": 184, "title": {"text": "cisbp__M2014", "offset": -28.5, "dx": 1},
  "layer": [
   {"layer": [
     {"data": {"name": "letters"}, "transform": [{"filter": "datum.motif === 'cisbp__M2014'"}], "mark": {"type": "bar", "width": {"band": 0.96}},
      "encoding": {"x": {"field": "pos", "type": "ordinal", "scale": {"domain": [1,2,3,4,5,6,7,8,9,10], "range": [43, 338], "paddingInner": 0, "paddingOuter": 0}, "axis": {"title": null}},
       "y": {"field": "bits", "type": "quantitative", "stack": "zero", "scale": {"domain": [0, 2], "range": [151.7, 33]}, "axis": {"orient": "left", "title": "bits", "offset": -43, "labelOverlap": false, "values": [0, 1, 2], "format": ".1f", "tickSize": 5}},
       "order": {"field": "bits", "type": "quantitative", "sort": "ascending"},
       "color": {"field": "base", "type": "nominal", "scale": {"domain": ["A","C","G","T"], "range": ["#008000","#0000ff","#ffa500","#ff0000"]}, "legend": null}}},
     {"data": {"name": "letters"}, "transform": [{"filter": "datum.motif === 'cisbp__M2014'"}, {"stack": "bits", "groupby": ["pos"], "sort": [{"field": "bits", "order": "ascending"}], "as": ["y0", "y1"]}, {"filter": "datum.bits >= 0.15"}],
      "mark": {"type": "text", "color": "white", "align": "center", "baseline": "bottom"},
      "encoding": {"x": {"field": "pos", "type": "ordinal"}, "y": {"field": "y0", "type": "quantitative", "stack": null, "axis": null}, "text": {"field": "base"}, "size": {"field": "bits", "type": "quantitative", "scale": {"domain": [0, 0.575], "range": [0, 23], "clamp": true}, "legend": null}}},
     {"data": {"name": "errs"}, "transform": [{"filter": "datum.motif === 'cisbp__M2014'"}], "mark": {"type": "errorbar", "ticks": true, "size": 24, "color": "#c8c8c8", "thickness": 1.2},
      "encoding": {"x": {"field": "pos", "type": "ordinal"}, "y": {"field": "lo", "type": "quantitative", "axis": {"orient": "left", "title": null, "offset": -43, "values": [0.2,0.4,0.6,0.8,1.2,1.4,1.6,1.8], "labels": false, "domain": false, "tickSize": 3}}, "y2": {"field": "hi"}}}
   ], "resolve": {"axis": {"y": "independent"}}},
   {"data": {"name": "ends"}, "transform": [{"filter": "datum.end === '5′'"}], "mark": {"type": "text", "align": "right", "baseline": "middle", "fontSize": 13},
    "encoding": {"x": {"field": "end", "type": "nominal", "scale": {"type": "point", "domain": ["5′","3′"], "range": [43, 338], "padding": 0}, "axis": null}, "y": {"datum": -0.25, "type": "quantitative", "scale": {"domain": [0, 2], "range": [151.7, 33]}, "axis": null}, "text": {"field": "end"}}},
   {"data": {"name": "ends"}, "transform": [{"filter": "datum.end === '3′'"}], "mark": {"type": "text", "align": "left", "baseline": "middle", "fontSize": 13, "dx": 4},
    "encoding": {"x": {"field": "end", "type": "nominal", "scale": {"type": "point", "domain": ["5′","3′"], "range": [43, 338], "padding": 0}, "axis": null}, "y": {"datum": -0.25, "type": "quantitative", "scale": {"domain": [0, 2], "range": [151.7, 33]}, "axis": null}, "text": {"field": "end"}}}
  ],
  "resolve": {"scale": {"x": "independent"}, "axis": {"y": "independent"}}},
 {"width": 417, "height": 184, "data": {"name": "cells"}, "transform": [{"filter": "datum.motif === 'cisbp__M2014'"}],
  "layer": [
   {"transform": [{"filter": "datum.col === 'gene' || datum.col === 'n1' || datum.col === 'n2'"}], "mark": {"type": "text", "align": "center", "baseline": "middle"},
    "encoding": {"x": {"field": "col", "type": "nominal", "scale": {"type": "point", "domain": ["gene","n1","n2"], "range": [70.5, 263], "padding": 0}, "axis": null}, "y": {"field": "motif", "type": "nominal", "scale": {"range": [173, 173]}, "axis": null}, "text": {"field": "text"}}},
   {"transform": [{"filter": "datum.col === 'n3'"}], "mark": {"type": "text", "align": "right", "baseline": "middle"},
    "encoding": {"x": {"field": "col", "type": "nominal", "scale": {"range": [411, 411]}, "axis": null}, "y": {"field": "motif", "type": "nominal", "scale": {"range": [173, 173]}, "axis": null}, "text": {"field": "text"}}}
  ], "resolve": {"scale": {"x": "independent"}}}
], "spacing": 0, "bounds": "flush"},
{"hconcat": [
 {"width": 175, "height": 184, "data": {"name": "cells"}, "transform": [{"filter": "datum.motif === 'cisbp__M4778' && datum.col === 'name'"}], "mark": {"type": "text", "align": "left", "baseline": "middle"}, "encoding": {"x": {"field": "col", "type": "nominal", "scale": {"range": [15, 15]}, "axis": null}, "y": {"field": "col", "type": "nominal", "scale": {"range": [173, 173]}, "axis": null}, "text": {"field": "text"}}},
 {"width": 359, "height": 184, "title": {"text": "cisbp__M4778", "offset": -28.5, "dx": 1},
  "layer": [
   {"layer": [
     {"data": {"name": "letters"}, "transform": [{"filter": "datum.motif === 'cisbp__M4778'"}], "mark": {"type": "bar", "width": {"band": 0.96}},
      "encoding": {"x": {"field": "pos", "type": "ordinal", "scale": {"domain": [1,2,3,4,5,6,7,8], "range": [43, 338], "paddingInner": 0, "paddingOuter": 0}, "axis": {"title": null}},
       "y": {"field": "bits", "type": "quantitative", "stack": "zero", "scale": {"domain": [0, 2], "range": [151.7, 33]}, "axis": {"orient": "left", "title": "bits", "offset": -43, "labelOverlap": false, "values": [0, 1, 2], "format": ".1f", "tickSize": 5}},
       "order": {"field": "bits", "type": "quantitative", "sort": "ascending"},
       "color": {"field": "base", "type": "nominal", "scale": {"domain": ["A","C","G","T"], "range": ["#008000","#0000ff","#ffa500","#ff0000"]}, "legend": null}}},
     {"data": {"name": "letters"}, "transform": [{"filter": "datum.motif === 'cisbp__M4778'"}, {"stack": "bits", "groupby": ["pos"], "sort": [{"field": "bits", "order": "ascending"}], "as": ["y0", "y1"]}, {"filter": "datum.bits >= 0.15"}],
      "mark": {"type": "text", "color": "white", "align": "center", "baseline": "bottom"},
      "encoding": {"x": {"field": "pos", "type": "ordinal"}, "y": {"field": "y0", "type": "quantitative", "stack": null, "axis": null}, "text": {"field": "base"}, "size": {"field": "bits", "type": "quantitative", "scale": {"domain": [0, 0.725], "range": [0, 29], "clamp": true}, "legend": null}}},
     {"data": {"name": "errs"}, "transform": [{"filter": "datum.motif === 'cisbp__M4778'"}], "mark": {"type": "errorbar", "ticks": true, "size": 27, "color": "#c8c8c8", "thickness": 1.2},
      "encoding": {"x": {"field": "pos", "type": "ordinal"}, "y": {"field": "lo", "type": "quantitative", "axis": {"orient": "left", "title": null, "offset": -43, "values": [0.2,0.4,0.6,0.8,1.2,1.4,1.6,1.8], "labels": false, "domain": false, "tickSize": 3}}, "y2": {"field": "hi"}}}
   ], "resolve": {"axis": {"y": "independent"}}},
   {"data": {"name": "ends"}, "transform": [{"filter": "datum.end === '5′'"}], "mark": {"type": "text", "align": "right", "baseline": "middle", "fontSize": 13},
    "encoding": {"x": {"field": "end", "type": "nominal", "scale": {"type": "point", "domain": ["5′","3′"], "range": [43, 338], "padding": 0}, "axis": null}, "y": {"datum": -0.25, "type": "quantitative", "scale": {"domain": [0, 2], "range": [151.7, 33]}, "axis": null}, "text": {"field": "end"}}},
   {"data": {"name": "ends"}, "transform": [{"filter": "datum.end === '3′'"}], "mark": {"type": "text", "align": "left", "baseline": "middle", "fontSize": 13, "dx": 4},
    "encoding": {"x": {"field": "end", "type": "nominal", "scale": {"type": "point", "domain": ["5′","3′"], "range": [43, 338], "padding": 0}, "axis": null}, "y": {"datum": -0.25, "type": "quantitative", "scale": {"domain": [0, 2], "range": [151.7, 33]}, "axis": null}, "text": {"field": "end"}}}
  ],
  "resolve": {"scale": {"x": "independent"}, "axis": {"y": "independent"}}},
 {"width": 417, "height": 184, "data": {"name": "cells"}, "transform": [{"filter": "datum.motif === 'cisbp__M4778'"}],
  "layer": [
   {"transform": [{"filter": "datum.col === 'gene' || datum.col === 'n1' || datum.col === 'n2'"}], "mark": {"type": "text", "align": "center", "baseline": "middle"},
    "encoding": {"x": {"field": "col", "type": "nominal", "scale": {"type": "point", "domain": ["gene","n1","n2"], "range": [70.5, 263], "padding": 0}, "axis": null}, "y": {"field": "motif", "type": "nominal", "scale": {"range": [173, 173]}, "axis": null}, "text": {"field": "text"}}},
   {"transform": [{"filter": "datum.col === 'n3'"}], "mark": {"type": "text", "align": "right", "baseline": "middle"},
    "encoding": {"x": {"field": "col", "type": "nominal", "scale": {"range": [411, 411]}, "axis": null}, "y": {"field": "motif", "type": "nominal", "scale": {"range": [173, 173]}, "axis": null}, "text": {"field": "text"}}}
  ], "resolve": {"scale": {"x": "independent"}}}
], "spacing": 0, "bounds": "flush"},
{"hconcat": [
 {"width": 175, "height": 184, "data": {"name": "cells"}, "transform": [{"filter": "datum.motif === 'hdpi__GTF2B' && datum.col === 'name'"}], "mark": {"type": "text", "align": "left", "baseline": "middle"}, "encoding": {"x": {"field": "col", "type": "nominal", "scale": {"range": [15, 15]}, "axis": null}, "y": {"field": "col", "type": "nominal", "scale": {"range": [173, 173]}, "axis": null}, "text": {"field": "text"}}},
 {"width": 359, "height": 184, "title": {"text": "hdpi__GTF2B", "offset": -28.5, "dx": 1},
  "layer": [
   {"layer": [
     {"data": {"name": "letters"}, "transform": [{"filter": "datum.motif === 'hdpi__GTF2B'"}], "mark": {"type": "bar", "width": {"band": 0.96}},
      "encoding": {"x": {"field": "pos", "type": "ordinal", "scale": {"domain": [1,2,3,4,5,6], "range": [43, 338], "paddingInner": 0, "paddingOuter": 0}, "axis": {"title": null}},
       "y": {"field": "bits", "type": "quantitative", "stack": "zero", "scale": {"domain": [0, 2], "range": [151.7, 33]}, "axis": {"orient": "left", "title": "bits", "offset": -43, "labelOverlap": false, "values": [0, 1, 2], "format": ".1f", "tickSize": 5}},
       "order": {"field": "bits", "type": "quantitative", "sort": "ascending"},
       "color": {"field": "base", "type": "nominal", "scale": {"domain": ["A","C","G","T"], "range": ["#008000","#0000ff","#ffa500","#ff0000"]}, "legend": null}}},
     {"data": {"name": "letters"}, "transform": [{"filter": "datum.motif === 'hdpi__GTF2B'"}, {"stack": "bits", "groupby": ["pos"], "sort": [{"field": "bits", "order": "ascending"}], "as": ["y0", "y1"]}, {"filter": "datum.bits >= 0.15"}],
      "mark": {"type": "text", "color": "white", "align": "center", "baseline": "bottom"},
      "encoding": {"x": {"field": "pos", "type": "ordinal"}, "y": {"field": "y0", "type": "quantitative", "stack": null, "axis": null}, "text": {"field": "base"}, "size": {"field": "bits", "type": "quantitative", "scale": {"domain": [0, 0.95], "range": [0, 38], "clamp": true}, "legend": null}}},
     {"data": {"name": "errs"}, "transform": [{"filter": "datum.motif === 'hdpi__GTF2B'"}], "mark": {"type": "errorbar", "ticks": true, "size": 25, "color": "#c8c8c8", "thickness": 1.2},
      "encoding": {"x": {"field": "pos", "type": "ordinal"}, "y": {"field": "lo", "type": "quantitative", "axis": {"orient": "left", "title": null, "offset": -43, "values": [0.2,0.4,0.6,0.8,1.2,1.4,1.6,1.8], "labels": false, "domain": false, "tickSize": 3}}, "y2": {"field": "hi"}}}
   ], "resolve": {"axis": {"y": "independent"}}},
   {"data": {"name": "ends"}, "transform": [{"filter": "datum.end === '5′'"}], "mark": {"type": "text", "align": "right", "baseline": "middle", "fontSize": 13},
    "encoding": {"x": {"field": "end", "type": "nominal", "scale": {"type": "point", "domain": ["5′","3′"], "range": [43, 338], "padding": 0}, "axis": null}, "y": {"datum": -0.25, "type": "quantitative", "scale": {"domain": [0, 2], "range": [151.7, 33]}, "axis": null}, "text": {"field": "end"}}},
   {"data": {"name": "ends"}, "transform": [{"filter": "datum.end === '3′'"}], "mark": {"type": "text", "align": "left", "baseline": "middle", "fontSize": 13, "dx": 4},
    "encoding": {"x": {"field": "end", "type": "nominal", "scale": {"type": "point", "domain": ["5′","3′"], "range": [43, 338], "padding": 0}, "axis": null}, "y": {"datum": -0.25, "type": "quantitative", "scale": {"domain": [0, 2], "range": [151.7, 33]}, "axis": null}, "text": {"field": "end"}}}
  ],
  "resolve": {"scale": {"x": "independent"}, "axis": {"y": "independent"}}},
 {"width": 417, "height": 184, "data": {"name": "cells"}, "transform": [{"filter": "datum.motif === 'hdpi__GTF2B'"}],
  "layer": [
   {"transform": [{"filter": "datum.col === 'gene' || datum.col === 'n1' || datum.col === 'n2'"}], "mark": {"type": "text", "align": "center", "baseline": "middle"},
    "encoding": {"x": {"field": "col", "type": "nominal", "scale": {"type": "point", "domain": ["gene","n1","n2"], "range": [70.5, 263], "padding": 0}, "axis": null}, "y": {"field": "motif", "type": "nominal", "scale": {"range": [173, 173]}, "axis": null}, "text": {"field": "text"}}},
   {"transform": [{"filter": "datum.col === 'n3'"}], "mark": {"type": "text", "align": "right", "baseline": "middle"},
    "encoding": {"x": {"field": "col", "type": "nominal", "scale": {"range": [411, 411]}, "axis": null}, "y": {"field": "motif", "type": "nominal", "scale": {"range": [173, 173]}, "axis": null}, "text": {"field": "text"}}}
  ], "resolve": {"scale": {"x": "independent"}}}
], "spacing": 0, "bounds": "flush"},
{"hconcat": [
 {"width": 175, "height": 184, "data": {"name": "cells"}, "transform": [{"filter": "datum.motif === 'hdpi__HSF1' && datum.col === 'name'"}], "mark": {"type": "text", "align": "left", "baseline": "middle"}, "encoding": {"x": {"field": "col", "type": "nominal", "scale": {"range": [15, 15]}, "axis": null}, "y": {"field": "col", "type": "nominal", "scale": {"range": [173, 173]}, "axis": null}, "text": {"field": "text"}}},
 {"width": 359, "height": 184, "title": {"text": "hdpi__HSF1", "offset": -28.5, "dx": 1},
  "layer": [
   {"layer": [
     {"data": {"name": "letters"}, "transform": [{"filter": "datum.motif === 'hdpi__HSF1'"}], "mark": {"type": "bar", "width": {"band": 0.96}},
      "encoding": {"x": {"field": "pos", "type": "ordinal", "scale": {"domain": [1,2,3,4,5,6,7], "range": [43, 338], "paddingInner": 0, "paddingOuter": 0}, "axis": {"title": null}},
       "y": {"field": "bits", "type": "quantitative", "stack": "zero", "scale": {"domain": [0, 2], "range": [151.7, 33]}, "axis": {"orient": "left", "title": "bits", "offset": -43, "labelOverlap": false, "values": [0, 1, 2], "format": ".1f", "tickSize": 5}},
       "order": {"field": "bits", "type": "quantitative", "sort": "ascending"},
       "color": {"field": "base", "type": "nominal", "scale": {"domain": ["A","C","G","T"], "range": ["#008000","#0000ff","#ffa500","#ff0000"]}, "legend": null}}},
     {"data": {"name": "letters"}, "transform": [{"filter": "datum.motif === 'hdpi__HSF1'"}, {"stack": "bits", "groupby": ["pos"], "sort": [{"field": "bits", "order": "ascending"}], "as": ["y0", "y1"]}, {"filter": "datum.bits >= 0.15"}],
      "mark": {"type": "text", "color": "white", "align": "center", "baseline": "bottom"},
      "encoding": {"x": {"field": "pos", "type": "ordinal"}, "y": {"field": "y0", "type": "quantitative", "stack": null, "axis": null}, "text": {"field": "base"}, "size": {"field": "bits", "type": "quantitative", "scale": {"domain": [0, 0.825], "range": [0, 33], "clamp": true}, "legend": null}}},
     {"data": {"name": "errs"}, "transform": [{"filter": "datum.motif === 'hdpi__HSF1'"}], "mark": {"type": "errorbar", "ticks": true, "size": 23, "color": "#c8c8c8", "thickness": 1.2},
      "encoding": {"x": {"field": "pos", "type": "ordinal"}, "y": {"field": "lo", "type": "quantitative", "axis": {"orient": "left", "title": null, "offset": -43, "values": [0.2,0.4,0.6,0.8,1.2,1.4,1.6,1.8], "labels": false, "domain": false, "tickSize": 3}}, "y2": {"field": "hi"}}}
   ], "resolve": {"axis": {"y": "independent"}}},
   {"data": {"name": "ends"}, "transform": [{"filter": "datum.end === '5′'"}], "mark": {"type": "text", "align": "right", "baseline": "middle", "fontSize": 13},
    "encoding": {"x": {"field": "end", "type": "nominal", "scale": {"type": "point", "domain": ["5′","3′"], "range": [43, 338], "padding": 0}, "axis": null}, "y": {"datum": -0.25, "type": "quantitative", "scale": {"domain": [0, 2], "range": [151.7, 33]}, "axis": null}, "text": {"field": "end"}}},
   {"data": {"name": "ends"}, "transform": [{"filter": "datum.end === '3′'"}], "mark": {"type": "text", "align": "left", "baseline": "middle", "fontSize": 13, "dx": 4},
    "encoding": {"x": {"field": "end", "type": "nominal", "scale": {"type": "point", "domain": ["5′","3′"], "range": [43, 338], "padding": 0}, "axis": null}, "y": {"datum": -0.25, "type": "quantitative", "scale": {"domain": [0, 2], "range": [151.7, 33]}, "axis": null}, "text": {"field": "end"}}}
  ],
  "resolve": {"scale": {"x": "independent"}, "axis": {"y": "independent"}}},
 {"width": 417, "height": 184, "data": {"name": "cells"}, "transform": [{"filter": "datum.motif === 'hdpi__HSF1'"}],
  "layer": [
   {"transform": [{"filter": "datum.col === 'gene' || datum.col === 'n1' || datum.col === 'n2'"}], "mark": {"type": "text", "align": "center", "baseline": "middle"},
    "encoding": {"x": {"field": "col", "type": "nominal", "scale": {"type": "point", "domain": ["gene","n1","n2"], "range": [70.5, 263], "padding": 0}, "axis": null}, "y": {"field": "motif", "type": "nominal", "scale": {"range": [173, 173]}, "axis": null}, "text": {"field": "text"}}},
   {"transform": [{"filter": "datum.col === 'n3'"}], "mark": {"type": "text", "align": "right", "baseline": "middle"},
    "encoding": {"x": {"field": "col", "type": "nominal", "scale": {"range": [411, 411]}, "axis": null}, "y": {"field": "motif", "type": "nominal", "scale": {"range": [173, 173]}, "axis": null}, "text": {"field": "text"}}}
  ], "resolve": {"scale": {"x": "independent"}}}
], "spacing": 0, "bounds": "flush"}
],
"spacing": 0,
"bounds": "full",
"config": {
 "view": {"stroke": null},
 "text": {"font": "Liberation Sans", "fontSize": 16, "fontWeight": "bold", "color": "#000"},
 "title": {"font": "Liberation Serif", "fontSize": 18, "fontWeight": "bold", "color": "#000", "anchor": "middle", "frame": "group"},
 "axis": {"labelFont": "Liberation Sans", "labelFontWeight": "bold", "labelColor": "#000", "titleFont": "Liberation Sans", "titleFontWeight": "bold", "titleColor": "#000", "domainColor": "#333", "tickColor": "#333", "grid": false, "labelOverlap": false, "labelFlush": false},
 "axisX": {"labelAngle": -90, "labelFontSize": 13, "ticks": false, "labelPadding": 4, "offset": -32.4},
 "axisY": {"labelFontSize": 14, "titleFontSize": 14, "labelPadding": 1, "titlePadding": 0}
}
}
